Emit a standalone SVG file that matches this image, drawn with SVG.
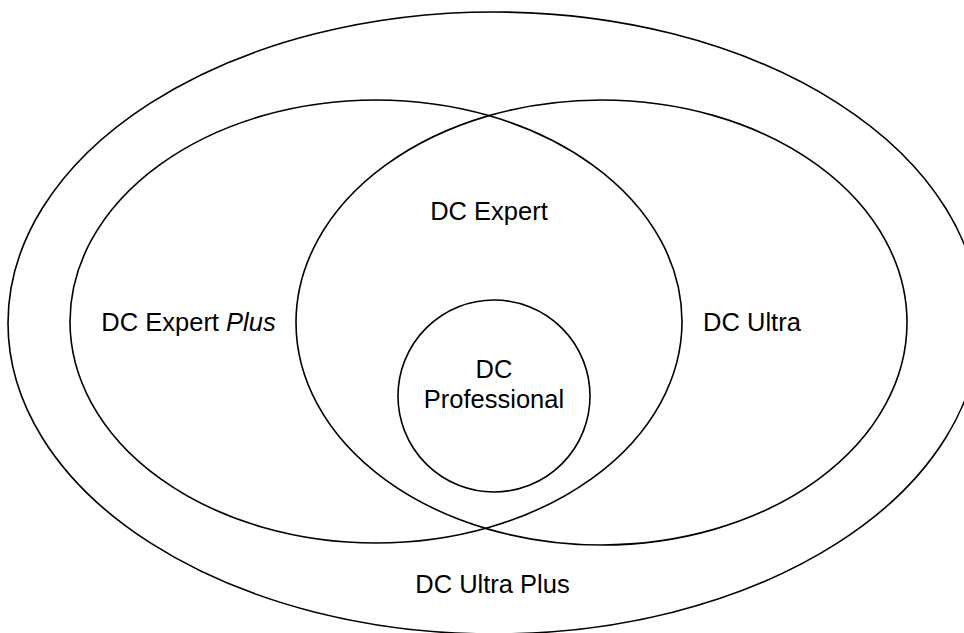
<svg xmlns="http://www.w3.org/2000/svg" width="964" height="633" viewBox="0 0 964 633">
  <style>
    .ring { fill: none; stroke: #000; stroke-width: 1.6; }
    .label { font-family: "Liberation Sans", Arial, sans-serif; font-size: 25.5px; fill: #000; text-anchor: middle; }
  </style>
  <rect width="964" height="633" fill="#fff"/>
  <g id="dc-ultra-plus">
    <ellipse class="ring" cx="494" cy="323" rx="486" ry="311"/>
    <text class="label" x="492.5" y="593">DC Ultra Plus</text>
  </g>
  <g id="dc-expert-plus">
    <ellipse class="ring" cx="376" cy="321.5" rx="306" ry="221.5"/>
    <text class="label" x="188.5" y="331">DC Expert <tspan font-style="italic">Plus</tspan></text>
  </g>
  <g id="dc-ultra">
    <ellipse class="ring" cx="601.5" cy="322.5" rx="305.5" ry="222.5"/>
    <text class="label" x="752" y="331">DC Ultra</text>
  </g>
  <g id="dc-expert">
    <text class="label" x="489" y="220">DC Expert</text>
  </g>
  <g id="dc-professional">
    <circle class="ring" cx="494" cy="396" r="96"/>
    <text class="label" x="494" y="378">DC</text>
    <text class="label" x="494" y="408">Professional</text>
  </g>
</svg>
